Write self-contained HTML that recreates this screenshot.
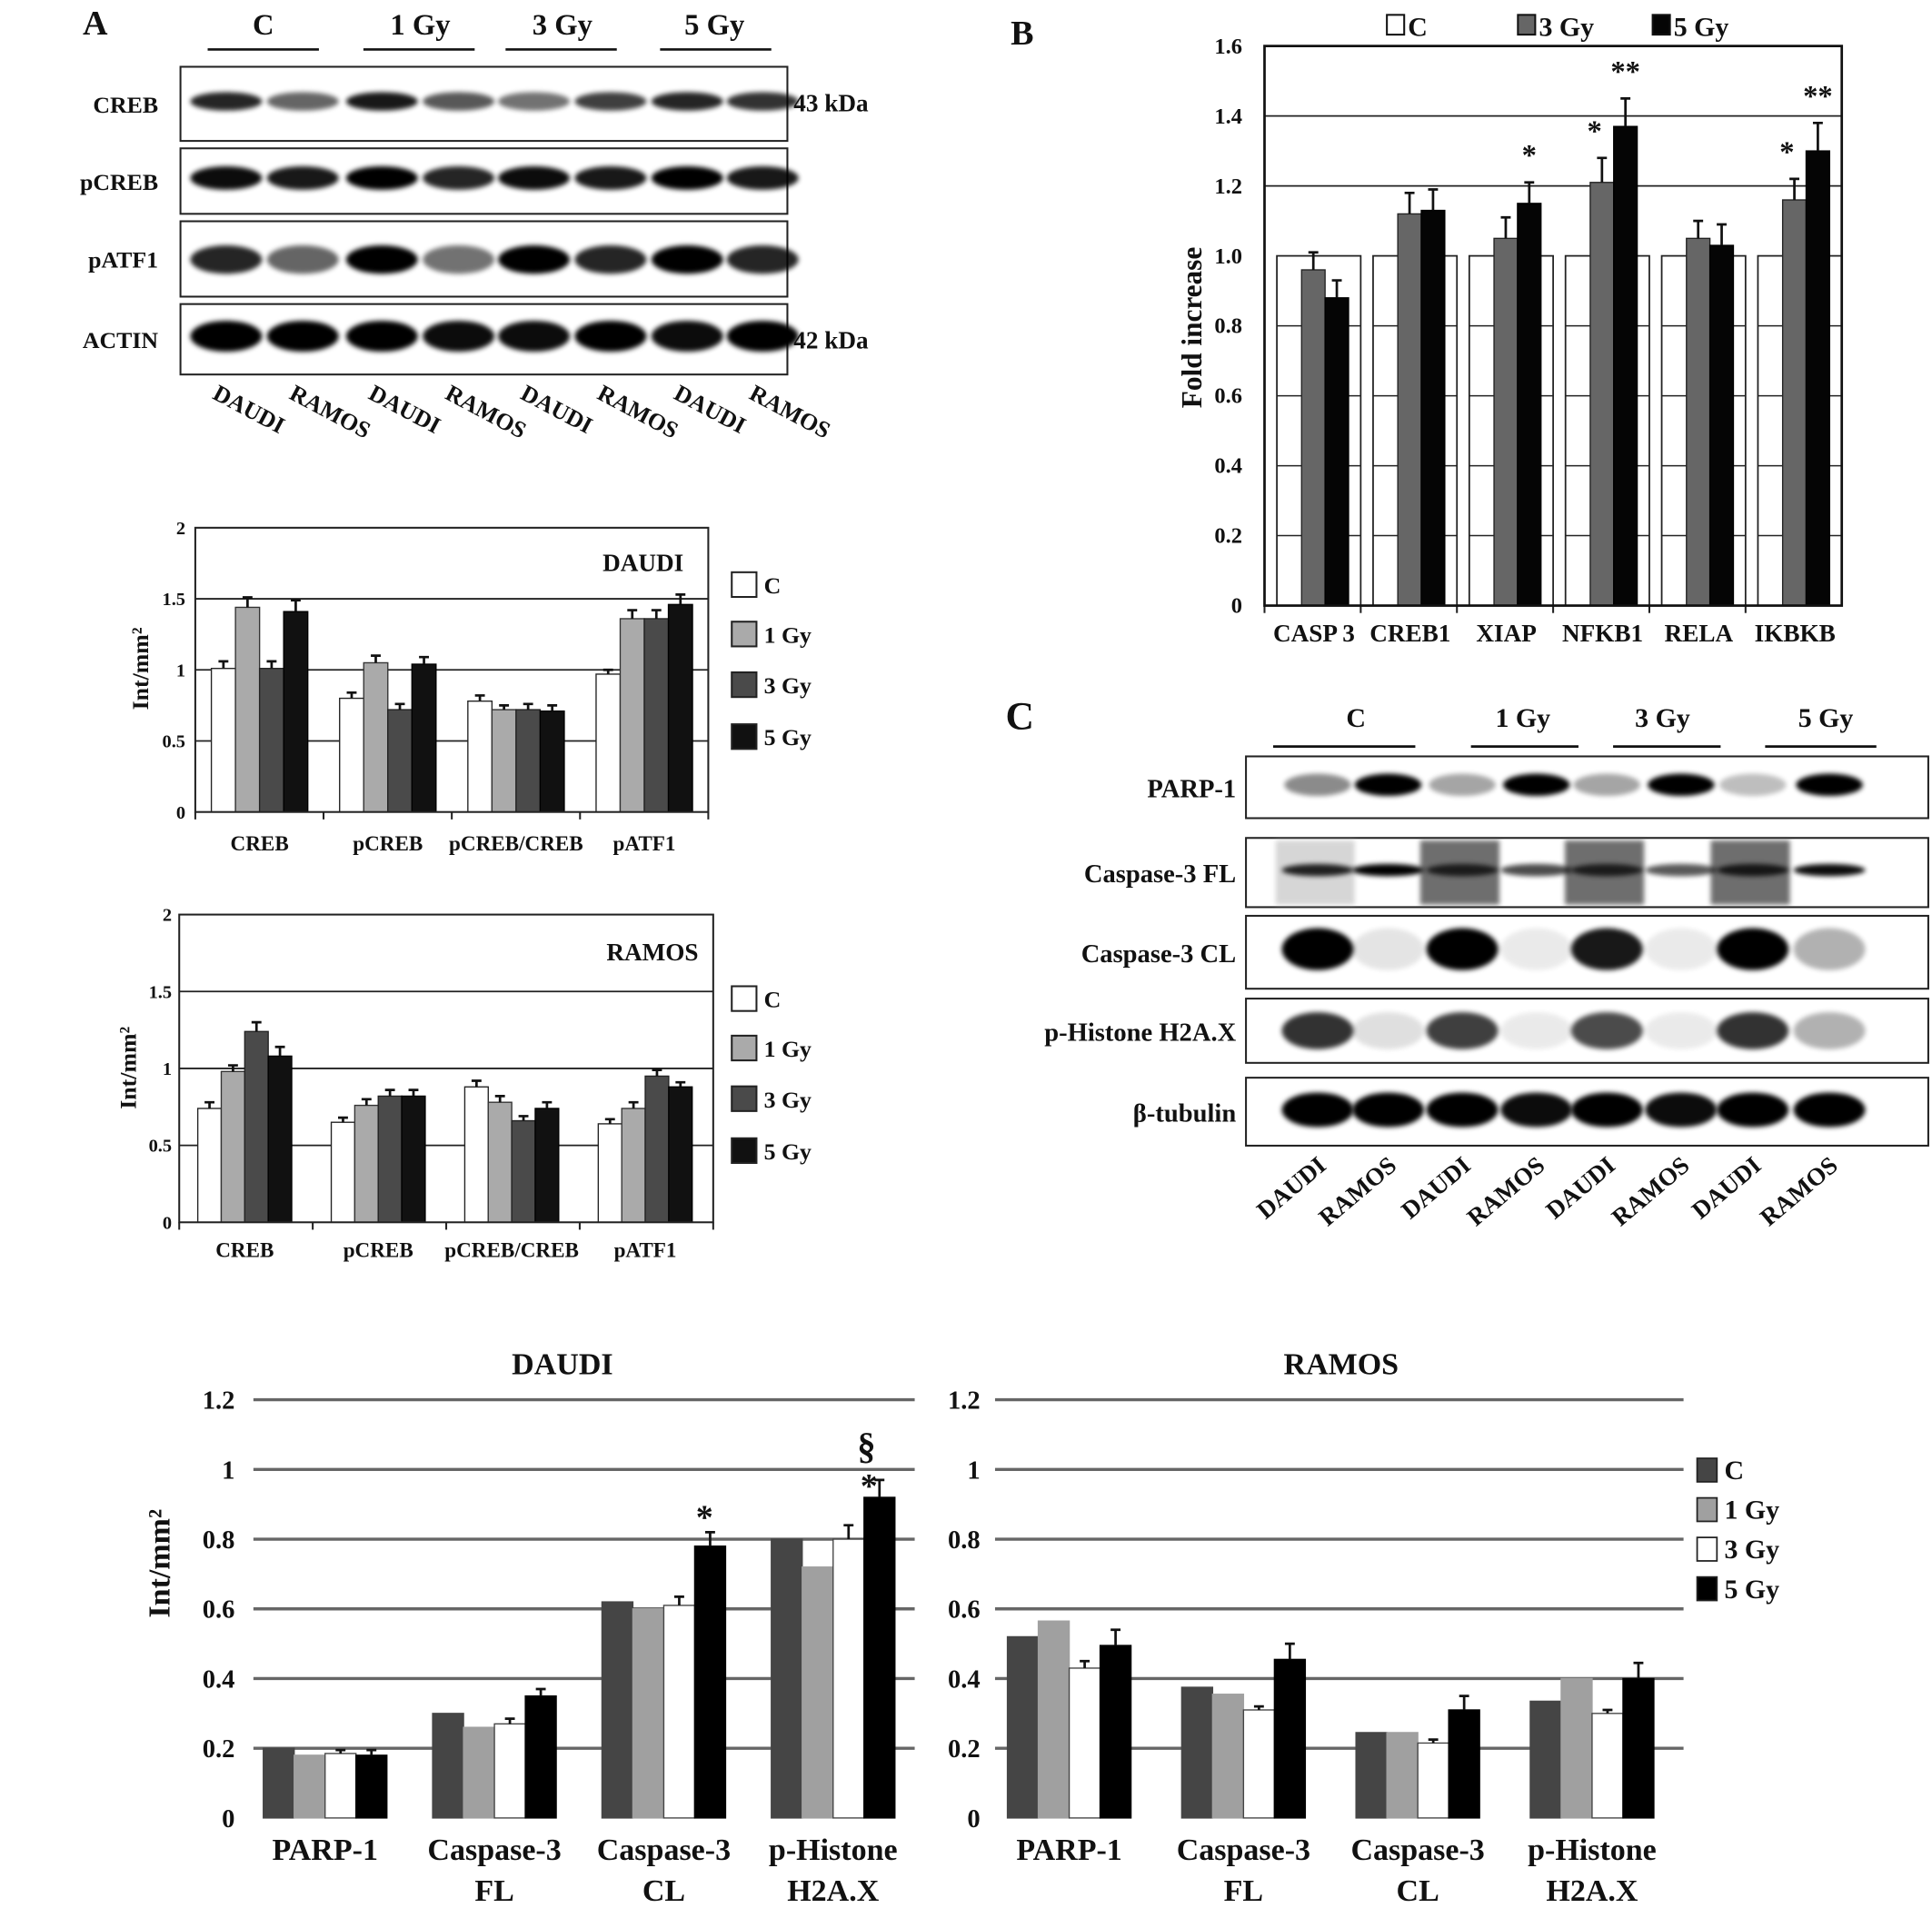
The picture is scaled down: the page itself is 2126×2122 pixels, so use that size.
<!DOCTYPE html>
<html><head><meta charset="utf-8"><title>Figure</title>
<style>
html,body{margin:0;padding:0;background:#fff;}
svg{display:block;}
text{font-family:"Liberation Serif",serif;font-weight:bold;fill:#111;}
</style></head>
<body>
<svg id="fig" xmlns="http://www.w3.org/2000/svg" width="2126" height="2122" viewBox="0 0 1563 1560">
<defs>
<filter id="blur" x="-30%" y="-100%" width="160%" height="300%"><feGaussianBlur stdDeviation="2"/></filter>
</defs>
<rect x="0" y="0" width="1563" height="1560" fill="#fff"/>
<g id="layer"></g>
</svg>
<script>
// ---------- chart data ----------
var aCats = ["CREB","pCREB","pCREB/CREB","pATF1"];
var aSeries = ["C","1 Gy","3 Gy","5 Gy"];
var aDaudiVals = [[1.01,1.44,1.01,1.41],[0.80,1.05,0.72,1.04],[0.78,0.72,0.72,0.71],[0.97,1.36,1.36,1.46]];
var aDaudiErr = [[0.05,0.07,0.05,0.08],[0.04,0.05,0.04,0.05],[0.04,0.03,0.04,0.04],[0.03,0.06,0.06,0.07]];
var aRamosVals = [[0.74,0.98,1.24,1.08],[0.65,0.76,0.82,0.82],[0.88,0.78,0.66,0.74],[0.64,0.74,0.95,0.88]];
var aRamosErr = [[0.04,0.04,0.06,0.06],[0.03,0.04,0.04,0.04],[0.04,0.04,0.03,0.04],[0.03,0.04,0.04,0.03]];
var aTicks = [0,0.5,1,1.5,2];
var aTickLabels = ["0","0.5","1","1.5","2"];

var bCats = ["CASP 3","CREB1","XIAP","NFKB1","RELA","IKBKB"];
var bSeries = ["C","3 Gy","5 Gy"];
var bCVals = [1,1,1,1,1,1];
var b3Vals = [0.96,1.12,1.05,1.21,1.05,1.16];
var b5Vals = [0.88,1.13,1.15,1.37,1.03,1.30];
var b3Err = [0.05,0.06,0.06,0.07,0.05,0.06];
var b5Err = [0.05,0.06,0.06,0.08,0.06,0.08];
var b3Sig = ["","","","*","","*"];
var b5Sig = ["","","*","**","","**"];
var bTicks = [0,0.2,0.4,0.6,0.8,1.0,1.2,1.4,1.6];
var bTickLabels = ["0","0.2","0.4","0.6","0.8","1.0","1.2","1.4","1.6"];

var dCats = [["PARP-1",""],["Caspase-3","FL"],["Caspase-3","CL"],["p-Histone","H2A.X"]];
var dSeries = ["C","1 Gy","3 Gy","5 Gy"];
var dDaudiVals = [[0.20,0.18,0.185,0.18],[0.30,0.26,0.27,0.35],[0.62,0.60,0.61,0.78],[0.80,0.72,0.80,0.92]];
var dDaudiErr = [[0,0,0.01,0.015],[0,0,0.015,0.02],[0,0,0.025,0.04],[0,0,0.04,0.05]];
var dRamosVals = [[0.52,0.565,0.43,0.495],[0.375,0.355,0.31,0.455],[0.245,0.245,0.215,0.31],[0.335,0.40,0.30,0.40]];
var dRamosErr = [[0,0,0.02,0.045],[0,0,0.01,0.045],[0,0,0.01,0.04],[0,0,0.01,0.045]];
var dTicks = [0,0.2,0.4,0.6,0.8,1,1.2];
var dTickLabels = ["0","0.2","0.4","0.6","0.8","1","1.2"];

// ---------- helpers ----------
var NS = "http://www.w3.org/2000/svg";
var layer = document.getElementById("layer");
function mk(tag, attrs, parent){
  var el = document.createElementNS(NS, tag);
  for (var k in attrs) el.setAttribute(k, attrs[k]);
  (parent || layer).appendChild(el);
  return el;
}
function txt(x, y, s, size, anchor, parent, extra){
  var a = {x:x, y:y, "font-size":size, "text-anchor":anchor||"middle"};
  if (extra) for (var k in extra) a[k] = extra[k];
  var t = mk("text", a, parent);
  t.textContent = s;
  return t;
}

// ---------- panel letters ----------
var t;
t = txt(77, 28, "A", 28, "middle");


t = txt(827, 36, "B", 28, "middle");


t = txt(825, 590, "C", 32, "middle");



// ---------- blot A ----------
var blotA = mk("g", {});


var aHead = [["C",213,168,258],["1 Gy",340,294,384],["3 Gy",455,409,499],["5 Gy",578,534,624]];
aHead.forEach(function(h){
  var e = txt(h[1], 28, h[0], 24, "middle", blotA);
  
  
  var l = mk("line", {x1:h[2], x2:h[3], y1:40, y2:40, stroke:"#111", "stroke-width":2}, blotA);
  
  
});
var aLanes = [183,245,309,371,432,494,556,617];
var aRows = [
  {name:"CREB", y0:54, y1:114, by:82, bh:11, ints:[0.85,0.6,0.9,0.65,0.55,0.75,0.85,0.8]},
  {name:"pCREB", y0:120, y1:173, by:144, bh:15, ints:[0.95,0.9,1,0.85,0.95,0.9,1,0.9]},
  {name:"pATF1", y0:179, y1:240, by:210, bh:19, ints:[0.85,0.6,1,0.55,1,0.85,1,0.85]},
  {name:"ACTIN", y0:246, y1:303, by:272, bh:21, ints:[1,1,1,0.95,0.95,1,0.95,1]}
];
aRows.forEach(function(r){
  var g = mk("g", {}, blotA);
  
  
  mk("rect", {x:146, y:r.y0, width:491, height:r.y1-r.y0, fill:"#fff", stroke:"#222", "stroke-width":1.5}, g);
  r.ints.forEach(function(v, i){
    var b = mk("ellipse", {cx:aLanes[i], cy:r.by, rx:29, ry:r.bh/2+2, fill:"#000", opacity:v, filter:"url(#blur)"}, g);
    
    
  });
  var lab = txt(128, (r.y0+r.y1)/2+7, r.name, 19, "end", g);
  
  
});
t = txt(642, 90, "43 kDa", 20, "start", blotA, {"font-weight":"normal"});


t = txt(642, 282, "42 kDa", 20, "start", blotA, {"font-weight":"normal"});


aLanes.forEach(function(x, i){
  var s = i % 2 === 0 ? "DAUDI" : "RAMOS";
  var e = txt(x-12, 322, s, 19, "start", blotA, {transform:"rotate(28 " + (x-12) + " 322)", "font-weight":"normal"});
  
  
});

// ---------- generic grouped bar chart ----------
function groupedChart(cfg){
  var g = mk("g", {});
  
  
  function y(v){ return cfg.y0 - v * cfg.k; }
  cfg.grid.forEach(function(v){
    var l = mk("line", {x1:cfg.gx0, x2:cfg.gx1, y1:y(v), y2:y(v), stroke:cfg.gridColor||"#222", "stroke-width":cfg.gridW||1.3}, g);
    
    
  });
  cfg.ticks.forEach(function(v, i){
    var e = txt(cfg.tickX, y(v) + cfg.tickSize*0.35, cfg.tickLabels[i], cfg.tickSize, "end", g, cfg.tickFont||{});
    
    
  });
  cfg.vals.forEach(function(grp, ci){
    var cx0 = cfg.x0 + ci * cfg.cw;
    grp.forEach(function(v, si){
      var bx = cx0 + cfg.off + si * cfg.bw;
      var r = mk("rect", {x:bx, y:y(v), width:cfg.bw - (cfg.gap||0), height:v*cfg.k, fill:cfg.colors[si], stroke:cfg.strokes[si], "stroke-width":1}, g);
      
      
      var e = cfg.errs[ci][si];
      if (e > 0){
        var mx = bx + (cfg.bw-(cfg.gap||0))/2;
        var el = mk("path", {d:"M"+mx+" "+y(v)+"V"+y(v+e)+"M"+(mx-4)+" "+y(v+e)+"H"+(mx+4), stroke:"#111", "stroke-width":2, fill:"none"}, g);
        
        
      }
    });
    var lx = cx0 + cfg.off + cfg.bw * grp.length / 2 + (cfg.labelShift||0);
    var labs = [].concat(cfg.cats[ci]);
    labs.forEach(function(s, li){
      if (!s) return;
      var e = txt(lx, cfg.labelY + li*cfg.labelLH, s, cfg.labelSize, "middle", g, cfg.labelFont||{});
      
      
    });
  });
  return {g:g, y:y};
}

function smallFrame(name, x0, x1, yTop, yBot, catW){
  var f = mk("g", {});
  
  
  mk("rect", {x:x0, y:yTop, width:x1-x0, height:yBot-yTop, fill:"none", stroke:"#222", "stroke-width":1.5}, f);
  for (var i=0;i<=4;i++){
    mk("line", {x1:x0+i*catW, x2:x0+i*catW, y1:yBot, y2:yBot+6, stroke:"#222", "stroke-width":1.5}, f);
  }
}
var aD = groupedChart({name:"chart-a-daudi", x0:158, cw:103.75, off:13, bw:19.5, y0:657, k:115,
  vals:aDaudiVals, errs:aDaudiErr, colors:["#fff","#aaa","#4a4a4a","#111"], strokes:["#222","#333","#222","#000"],
  grid:[0.5,1,1.5], gx0:158, gx1:573, ticks:aTicks, tickLabels:aTickLabels, tickX:150, tickSize:15,
  cats:aCats, labelY:688, labelLH:0, labelSize:17});
smallFrame("chart-a-daudi-frame", 158, 573, 427, 657, 103.75);
t = txt(553, 462, "DAUDI", 20, "end", aD.g);


t = txt(0, 0, "Int/mm²", 19, "middle", aD.g, {transform:"translate(120 541) rotate(-90)", "font-weight":"normal"});



var aR = groupedChart({name:"chart-a-ramos", x0:145, cw:108, off:15, bw:19, y0:989, k:124.5,
  vals:aRamosVals, errs:aRamosErr, colors:["#fff","#aaa","#4a4a4a","#111"], strokes:["#222","#333","#222","#000"],
  grid:[0.5,1,1.5], gx0:145, gx1:577, ticks:aTicks, tickLabels:aTickLabels, tickX:139, tickSize:15,
  cats:aCats, labelY:1017, labelLH:0, labelSize:17});
smallFrame("chart-a-ramos-frame", 145, 577, 740, 989, 108);
t = txt(565, 777, "RAMOS", 20, "end", aR.g);


t = txt(0, 0, "Int/mm²", 19, "middle", aR.g, {transform:"translate(110 864) rotate(-90)", "font-weight":"normal"});



function smallLegend(name, yList, colors){
  var g = mk("g", {});
  
  
  aSeries.forEach(function(s, i){
    var r = mk("rect", {x:592, y:yList[i]-10, width:20, height:20, fill:colors[i], stroke:"#222", "stroke-width":1.5}, g);
    
    
    var e = txt(618, yList[i]+7, s, 19, "start", g);
    
    
  });
}
smallLegend("legend-a-daudi", [473,513,554,596], ["#fff","#aaa","#4a4a4a","#111"]);
smallLegend("legend-a-ramos", [808,848,889,931], ["#fff","#aaa","#4a4a4a","#111"]);

// ---------- B ----------
(function(){
  var g = mk("g", {});
  
  
  var X0 = 1023, X1 = 1490, Y0 = 490, K = 283, CW = (X1-X0)/6;
  function y(v){ return Y0 - v*K; }
  [1.2,1.4].forEach(function(v){
    var l = mk("line", {x1:X0, x2:X1, y1:y(v), y2:y(v), stroke:"#222", "stroke-width":1.3}, g);
    
    
  });
  bCats.forEach(function(c, i){
    var cx = X0 + i*CW;
    var cr = mk("rect", {x:cx+10, y:y(bCVals[i]), width:CW-10, height:bCVals[i]*K, fill:"#fff", stroke:"#222", "stroke-width":1.3}, g);
    
    
    [0.2,0.4,0.6,0.8].forEach(function(v){
      mk("line", {x1:cx+10, x2:cx+CW, y1:y(v), y2:y(v), stroke:"#222", "stroke-width":1.1}, g);
    });
    var bx3 = cx + 30, bx5 = cx + 49;
    var r3 = mk("rect", {x:bx3, y:y(b3Vals[i]), width:19, height:b3Vals[i]*K, fill:"#666", stroke:"#222", "stroke-width":1}, g);
    
    
    var r5 = mk("rect", {x:bx5, y:y(b5Vals[i]), width:19, height:b5Vals[i]*K, fill:"#050505", stroke:"#000", "stroke-width":1}, g);
    
    
    [[bx3+9.5,b3Vals[i],b3Err[i],b3Sig[i]],[bx5+9.5,b5Vals[i],b5Err[i],b5Sig[i]]].forEach(function(p){
      var e = mk("path", {d:"M"+p[0]+" "+y(p[1])+"V"+y(p[1]+p[2])+"M"+(p[0]-4)+" "+y(p[1]+p[2])+"H"+(p[0]+4), stroke:"#111", "stroke-width":2, fill:"none"}, g);
      
      
      if (p[3]){
        var s = txt(p[0] + (p[3].length===1 && p[0]===bx3+9.5 ? -6 : 0), y(p[1]+p[2]) - 14, p[3], 24, "middle", g, {"font-family":"Liberation Sans, sans-serif"});
        
        
      }
    });
    var lab = txt(cx + 40, 519, c, 20, "middle", g);
    
    
    mk("line", {x1:cx, x2:cx, y1:Y0, y2:Y0+6, stroke:"#222", "stroke-width":1.5}, g);
  });
  mk("rect", {x:X0, y:y(1.6), width:X1-X0, height:1.6*K, fill:"none", stroke:"#111", "stroke-width":2}, g);
  bTicks.forEach(function(v, i){
    var e = txt(1005, y(v)+6, bTickLabels[i], 18, "end", g);
    
    
  });
  var yt = txt(0, 0, "Fold increase", 23, "middle", g, {transform:"translate(972 265) rotate(-90)"});
  
  
  var leg = [[1122,"#fff"],[1228,"#666"],[1337,"#050505"]];
  bSeries.forEach(function(s, i){
    var sw = mk("rect", {x:leg[i][0], y:12, width:14, height:16, fill:leg[i][1], stroke:"#111", "stroke-width":1.5}, g);
    
    
    var e = txt(leg[i][0]+17, 29, s, 22, "start", g);
    
    
  });
})();

// ---------- blot C ----------
var blotC = mk("g", {});


var cHead = [["C",1097,1030,1145],["1 Gy",1232,1190,1277],["3 Gy",1345,1305,1392],["5 Gy",1477,1428,1518]];
cHead.forEach(function(h){
  var e = txt(h[1], 588, h[0], 22, "middle", blotC);
  
  
  var l = mk("line", {x1:h[2], x2:h[3], y1:604, y2:604, stroke:"#111", "stroke-width":2}, blotC);
  
  
});
var cLanes = [1066,1123,1183,1243,1300,1360,1418,1480];
var cRows = [
  {name:"PARP-1", y0:612, y1:662, by:635, bh:14, rx:27, ints:[0.45,1,0.35,1,0.35,1,0.25,1], bg:null},
  {name:"Caspase-3 FL", y0:678, y1:734, by:704, bh:6, rx:29, ints:[0.85,1,0.75,0.7,0.75,0.65,0.8,0.95], bg:0.55},
  {name:"Caspase-3 CL", y0:741, y1:800, by:768, bh:30, rx:29, ints:[1,0.1,1,0.08,0.9,0.08,1,0.3], bg:null},
  {name:"p-Histone H2A.X", y0:808, y1:860, by:834, bh:26, rx:29, ints:[0.8,0.12,0.75,0.08,0.7,0.08,0.8,0.3], bg:null},
  {name:"β-tubulin", y0:872, y1:927, by:898, bh:24, rx:29, ints:[1,1,1,0.95,1,0.95,1,1], bg:null}
];
cRows.forEach(function(r){
  var g = mk("g", {}, blotC);
  
  
  mk("rect", {x:1008, y:r.y0, width:552, height:r.y1-r.y0, fill:"#fff", stroke:"#222", "stroke-width":1.5}, g);
  if (r.bg){
    [0,2,4,6].forEach(function(i){
      mk("rect", {x:cLanes[i]-34, y:r.y0+2, width:64, height:r.y1-r.y0-4, fill:i===0?"#bbb":"#555", opacity:i===0?0.6:0.85, filter:"url(#blur)"}, g);
    });
  }
  r.ints.forEach(function(v, i){
    var b = mk("ellipse", {cx:cLanes[i], cy:r.by, rx:r.rx, ry:r.bh/2+2, fill:"#000", opacity:v, filter:"url(#blur)"}, g);
    
    
  });
  var lab = txt(1000, (r.y0+r.y1)/2+8, r.name, 21, "end", g);
  
  
});
cLanes.forEach(function(x, i){
  var s = i % 2 === 0 ? "DAUDI" : "RAMOS";
  var e = txt(x+8, 945, s, 20, "end", blotC, {transform:"rotate(-40 " + (x+8) + " 945)"});
  
  
});

// ---------- D bottom charts ----------
var dColors = ["#454545","#a0a0a0","#fff","#000"];
var dStrokes = ["#454545","#a0a0a0","#444","#000"];
var dd = groupedChart({name:"chart-d-daudi", x0:205, cw:137, off:8, bw:25, y0:1471, k:282,
  vals:dDaudiVals, errs:dDaudiErr, colors:dColors, strokes:dStrokes,
  grid:[0.2,0.4,0.6,0.8,1,1.2], gx0:205, gx1:740, gridColor:"#666", gridW:2.5, ticks:dTicks, tickLabels:dTickLabels, tickX:190, tickSize:21,
  cats:dCats, labelY:1505, labelLH:33, labelSize:25});
t = txt(455, 1112, "DAUDI", 25, "middle", dd.g);


t = txt(0, 0, "Int/mm²", 25, "middle", dd.g, {transform:"translate(137 1265) rotate(-90)"});


t = txt(570, dd.y(0.83), "*", 28, "middle", dd.g, {"font-family":"Liberation Sans, sans-serif"});


t = txt(703, dd.y(0.97)+14, "*", 28, "middle", dd.g, {"font-family":"Liberation Sans, sans-serif"});


t = txt(701, dd.y(1.08)+14, "§", 30, "middle", dd.g);



var dr = groupedChart({name:"chart-d-ramos", x0:805, cw:141, off:10, bw:25, y0:1471, k:282,
  vals:dRamosVals, errs:dRamosErr, colors:dColors, strokes:dStrokes,
  grid:[0.2,0.4,0.6,0.8,1,1.2], gx0:805, gx1:1362, gridColor:"#666", gridW:2.5, ticks:dTicks, tickLabels:dTickLabels, tickX:793, tickSize:21,
  cats:dCats, labelY:1505, labelLH:33, labelSize:25});
t = txt(1085, 1112, "RAMOS", 25, "middle", dr.g);


var dLeg = mk("g", {});


dSeries.forEach(function(s, i){
  var yy = 1180 + i*32;
  var r = mk("rect", {x:1373, y:yy, width:16, height:19, fill:dColors[i], stroke:"#222", "stroke-width":1.3}, dLeg);
  
  
  var e = txt(1395, yy+17, s, 22, "start", dLeg);
  
  
});
</script>
</body></html>
